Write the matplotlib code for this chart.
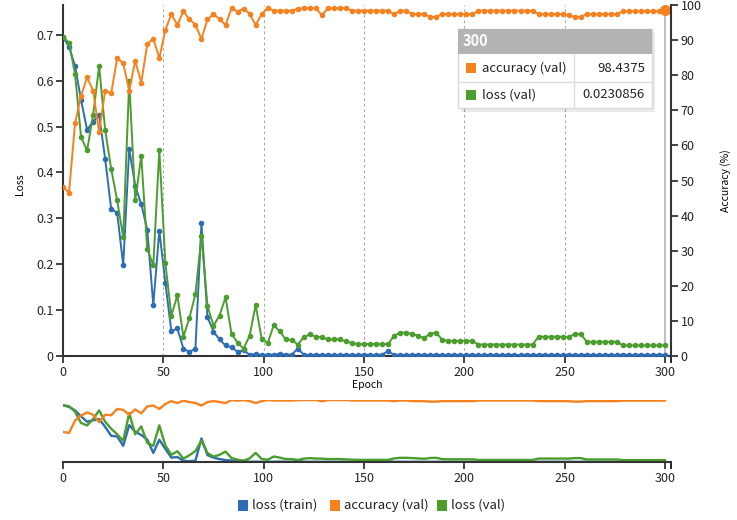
import numpy as np
import matplotlib
matplotlib.use('Agg')
import matplotlib.pyplot as plt
from matplotlib.patches import Rectangle

plt.rcParams['font.family'] = ['Noto Sans CJK JP', 'DejaVu Sans']

# validation every 3 epochs
epochs = np.arange(0, 301, 3)

loss_train = [0.695, 0.674, 0.632, 0.558, 0.493, 0.511, 0.525, 0.430, 0.321, 0.312,
              0.198, 0.451, 0.371, 0.331, 0.275, 0.111, 0.273, 0.160, 0.054, 0.060,
              0.016, 0.009, 0.016, 0.289, 0.085, 0.053, 0.036, 0.023, 0.019, 0.009,
              0.012, 0.003, 0.004, 0.002, 0.003, 0.003, 0.005, 0.003, 0.003, 0.016,
              0.003, 0.002, 0.003, 0.002, 0.003, 0.002, 0.002, 0.003, 0.002, 0.002,
              0.003, 0.002, 0.002, 0.003, 0.011, 0.002, 0.003, 0.002, 0.002, 0.003,
              0.002, 0.002, 0.003, 0.002, 0.002, 0.003, 0.002, 0.002, 0.003, 0.002,
              0.002, 0.003, 0.002, 0.002, 0.003, 0.002, 0.002, 0.003, 0.002, 0.002,
              0.003, 0.002, 0.003, 0.002, 0.003, 0.002, 0.002, 0.003, 0.002, 0.002,
              0.003, 0.002, 0.002, 0.003, 0.002, 0.002, 0.003, 0.002, 0.002, 0.003,
              0.002]

acc_val = [48.2, 46.5, 66.3, 74.1, 79.4, 75.6, 63.8, 75.6, 74.8, 84.9,
           83.4, 75.6, 84.1, 77.9, 88.9, 90.4, 84.9, 92.8, 97.4, 94.3,
           98.2, 95.9, 94.4, 90.3, 95.9, 97.4, 96.0, 94.3, 99.1, 98.1,
           99.0, 97.5, 94.3, 97.4, 99.1, 98.4, 98.4, 98.4, 98.4, 98.9,
           99.1, 99.1, 99.1, 97.1, 99.1, 99.1, 99.1, 99.1, 98.4, 98.4,
           98.4, 98.4, 98.4, 98.4, 98.4, 97.4, 98.4, 98.4, 97.4, 97.4,
           97.4, 96.6, 96.6, 97.4, 97.4, 97.4, 97.4, 97.4, 97.4, 98.4,
           98.4, 98.4, 98.4, 98.4, 98.4, 98.4, 98.4, 98.4, 98.4, 97.4,
           97.4, 97.4, 97.4, 97.4, 97.2, 96.6, 96.6, 97.4, 97.4, 97.4,
           97.4, 97.4, 97.4, 98.2, 98.2, 98.2, 98.2, 98.2, 98.2, 98.2,
           98.4375]

loss_val = [0.695, 0.683, 0.615, 0.477, 0.448, 0.525, 0.632, 0.493, 0.408, 0.339,
            0.259, 0.599, 0.339, 0.436, 0.233, 0.198, 0.449, 0.203, 0.088, 0.132,
            0.042, 0.083, 0.135, 0.261, 0.109, 0.066, 0.088, 0.128, 0.048, 0.029,
            0.016, 0.044, 0.111, 0.038, 0.028, 0.067, 0.054, 0.036, 0.035, 0.025,
            0.041, 0.047, 0.042, 0.041, 0.036, 0.036, 0.036, 0.032, 0.028, 0.026,
            0.026, 0.026, 0.026, 0.026, 0.026, 0.044, 0.051, 0.051, 0.048, 0.044,
            0.039, 0.049, 0.051, 0.035, 0.033, 0.033, 0.033, 0.033, 0.033, 0.025,
            0.025, 0.025, 0.025, 0.025, 0.025, 0.025, 0.025, 0.025, 0.025, 0.042,
            0.042, 0.042, 0.042, 0.042, 0.041, 0.048, 0.048, 0.031, 0.031, 0.031,
            0.031, 0.031, 0.031, 0.023, 0.023, 0.023, 0.023, 0.023, 0.023, 0.023,
            0.0230856]

series_names = ['loss (train)', 'accuracy (val)', 'loss (val)']
colors = ['#2e6db4', '#f5821f', '#4b9d2e']
xticks = [0, 50, 100, 150, 200, 250, 300]

W, H = 737, 520
def fx(x):
    return x / W
def fy(y):
    return 1 - y / H

fig = plt.figure(figsize=(7.37, 5.2), dpi=100)

# main chart
ax = fig.add_axes([fx(63), fy(356), fx(671) - fx(63), fy(5) - fy(356)])
ax2 = ax.twinx()
ax.set_xlim(0, 303)
ax.set_ylim(0, 0.765)
ax2.set_ylim(0, 100)

ax.plot(epochs, loss_train, color=colors[0], lw=1.4, marker='o', ms=3.0, zorder=3)
ax.plot(epochs, loss_val, color=colors[2], lw=1.4, marker='o', ms=3.0, zorder=4)
ax2.plot(epochs, acc_val, color=colors[1], lw=1.4, marker='o', ms=3.0)
ax2.plot(epochs[-1], acc_val[-1], 'o', color=colors[1], ms=7)

for xv in xticks[1:-1]:
    ax.axvline(xv, color='#aaaaaa', lw=0.8, ls=(0, (2.5, 2.5)), zorder=1)
ax.axvline(300, color='#c0c0c0', lw=1.5, zorder=2)

ax.set_xticks(xticks)
ax.set_xticks([303], minor=True)
ax.set_yticks(np.arange(0, 0.71, 0.1))
ax.set_yticklabels(['0', '0.1', '0.2', '0.3', '0.4', '0.5', '0.6', '0.7'])
ax2.set_yticks(np.arange(0, 101, 10))
for a in (ax, ax2):
    a.spines['top'].set_visible(False)
    a.tick_params(labelsize=9, colors='#222222', width=1.2, length=5, pad=2)
    a.tick_params(which='minor', width=1.2, length=5)
ax.spines['right'].set_visible(False)
ax2.spines['left'].set_visible(False)
for s in ('left', 'bottom'):
    ax.spines[s].set_linewidth(1.5)
    ax.spines[s].set_color('#333333')
ax2.spines['right'].set_linewidth(1.5)
ax2.spines['right'].set_color('#333333')
ax2.spines['bottom'].set_visible(False)

ax.set_xlabel('Epoch', fontsize=7.5, labelpad=1)
ax.set_ylabel('Loss', fontsize=7.5)
ax.yaxis.set_label_coords(-0.062, 0.49)
ax2.set_ylabel('Accuracy (%)', fontsize=7.5)
ax2.yaxis.set_label_coords(1.08, 0.5)

# overview chart
ov = fig.add_axes([fx(63), fy(462), fx(671) - fx(63), fy(399.5) - fy(462)])
ov2 = ov.twinx()
ov.set_xlim(0, 303)
ov.set_ylim(0, 0.765)
ov2.set_ylim(0, 100)
ov.plot(epochs, loss_train, color=colors[0], lw=1.7)
ov.plot(epochs, loss_val, color=colors[2], lw=1.7)
ov2.plot(epochs, acc_val, color=colors[1], lw=1.7)
for a in (ov, ov2):
    for s in ('top', 'left', 'right'):
        a.spines[s].set_visible(False)
    a.set_yticks([])
ov2.spines['bottom'].set_visible(False)
ov.spines['bottom'].set_linewidth(1.5)
ov.spines['bottom'].set_color('#333333')
ov.set_xticks(xticks)
ov.set_xticks([303], minor=True)
ov.tick_params(labelsize=9, colors='#222222', width=1.2, length=5, pad=2)
ov.tick_params(which='minor', width=1.2, length=5)

# tooltip at epoch 300
fig.add_artist(Rectangle((fx(461), fy(112)), fx(655) - fx(461), fy(32) - fy(112),
                         transform=fig.transFigure, fc='#000000', alpha=0.08, lw=0))
fig.add_artist(Rectangle((fx(458), fy(108)), fx(652) - fx(458), fy(29) - fy(108),
                         transform=fig.transFigure, fc='white', ec='#d8d8d8', lw=1))
fig.add_artist(Rectangle((fx(458), fy(54)), fx(652) - fx(458), fy(29) - fy(54),
                         transform=fig.transFigure, fc='#b3b3b3', lw=0))
fig.add_artist(plt.Line2D([fx(458), fx(652)], [fy(82), fy(82)], transform=fig.transFigure,
                          color='#dddddd', lw=1))
fig.add_artist(plt.Line2D([fx(574), fx(574)], [fy(54), fy(108)], transform=fig.transFigure,
                          color='#dddddd', lw=1))
fig.text(fx(463), fy(41.5), '300', color='white', fontsize=10.5, fontweight='bold', va='center')
tip_rows = [(series_names[1], acc_val[-1], colors[1], 68),
            (series_names[2], loss_val[-1], colors[2], 95)]
for name, val, c, yy in tip_rows:
    fig.add_artist(Rectangle((fx(466), fy(yy + 5)), fx(476) - fx(466), fy(yy - 5) - fy(yy + 5),
                             transform=fig.transFigure, fc=c, lw=0))
    fig.text(fx(482), fy(yy), name, fontsize=9.5, va='center', color='#222222')
    fig.text(fx(645), fy(yy), f'{val:g}', fontsize=9.5, va='center', ha='right', color='#222222')

# legend
leg_x = [238, 330, 437]
for name, c, x0 in zip(series_names, colors, leg_x):
    fig.add_artist(Rectangle((fx(x0), fy(511)), fx(x0 + 10) - fx(x0), fy(500) - fy(511),
                             transform=fig.transFigure, fc=c, lw=0))
    fig.text(fx(x0 + 14), fy(505.5), name, fontsize=9.5, va='center', color='#222222')

fig.savefig('out.png', dpi=100)
